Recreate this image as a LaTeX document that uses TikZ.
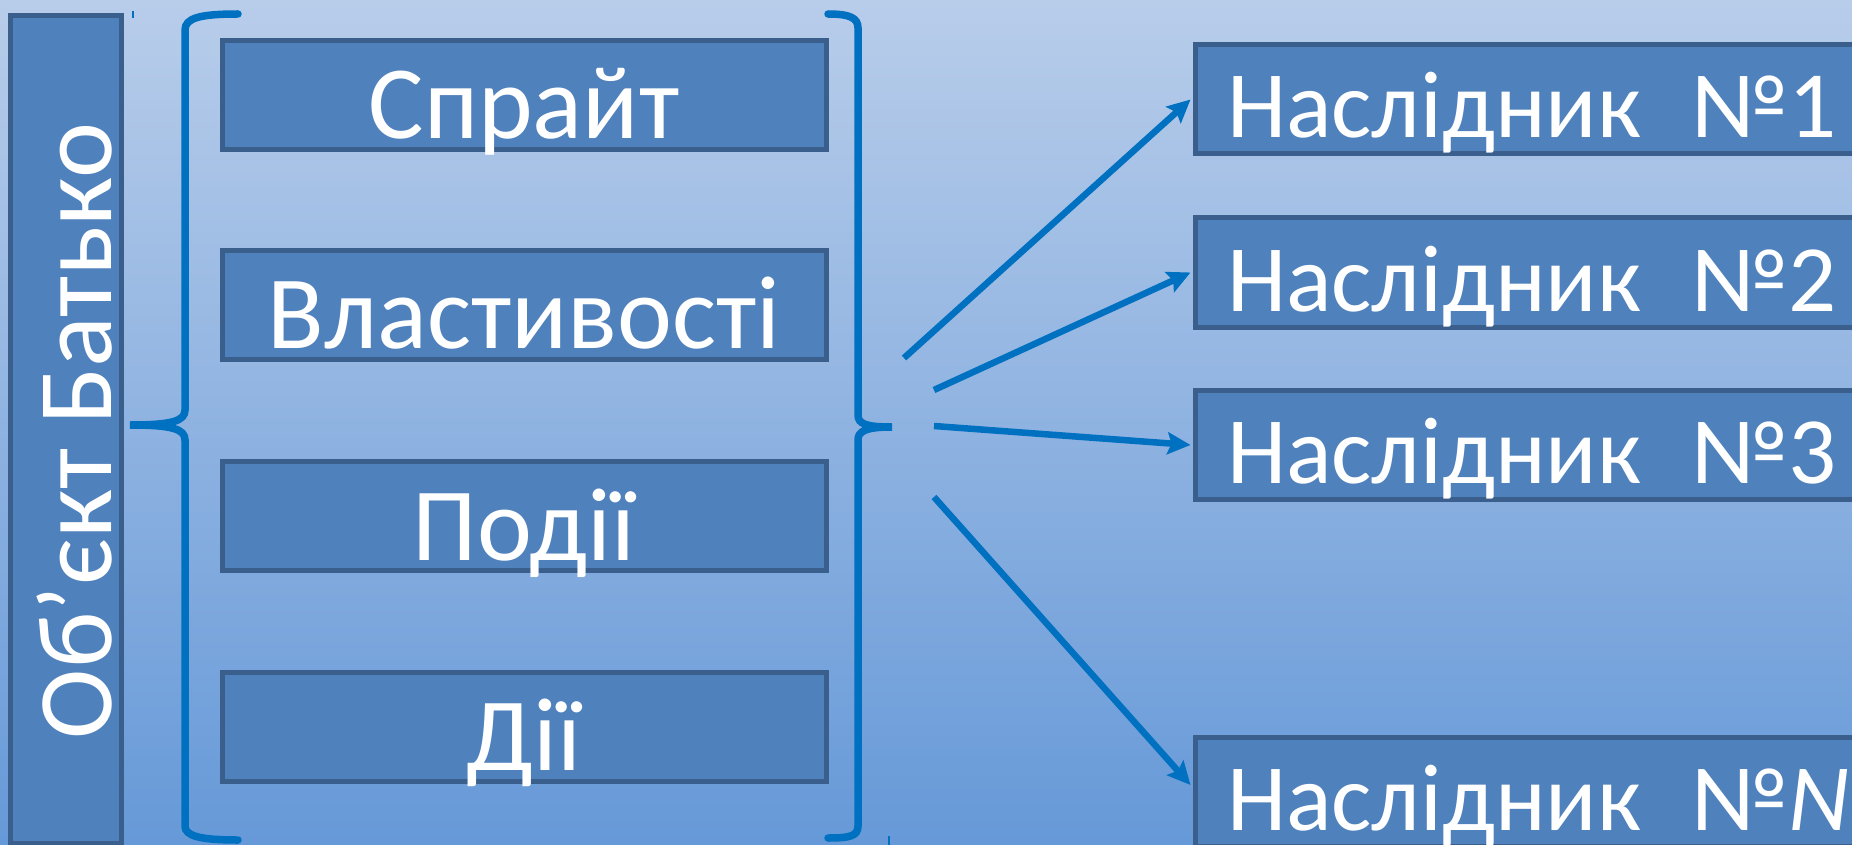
\documentclass[tikz,border=0pt]{standalone}
\usepackage{fontspec}
\setmainfont{Carlito}
\usetikzlibrary{arrows.meta}
\definecolor{bgtop}{HTML}{B8CDEA}
\definecolor{bgbot}{HTML}{6699D8}
\definecolor{boxfill}{HTML}{4F81BD}
\definecolor{boxline}{HTML}{3B5F8C}
\definecolor{linkblue}{HTML}{0070C0}
\begin{document}
\begin{tikzpicture}[x=1pt,y=-1pt,
  mbox/.style={draw=boxline, fill=boxfill, line width=5pt, minimum width=604pt, minimum height=109pt, inner sep=0pt, text=white, font=\fontsize{104}{110}\selectfont, text height=98pt, text depth=10pt},
  rbox/.style={draw=boxline, fill=boxfill, line width=5pt, minimum width=714pt, minimum height=109pt, inner xsep=28.5pt, inner ysep=0pt, text=white, font=\fontsize{95}{100}\selectfont, text height=92pt, text depth=15pt, text width=650pt, align=left, anchor=west},
  pbox/.style={draw=boxline, fill=boxfill, line width=5pt, minimum width=111pt, minimum height=827pt, inner sep=0pt},
  ptext/.style={rotate=90, anchor=base, text=white, font=\fontsize{106}{110}\selectfont, inner sep=0pt},
  brace/.style={draw=linkblue, line width=7.5pt, line cap=round},
  conn/.style={draw=linkblue, line width=6.5pt, -{Stealth[length=23pt,width=22pt,inset=4pt]}}]
\useasboundingbox (0,0) rectangle (1852,845);
\clip (0,0) rectangle (1852,845);
\shade[top color=bgtop, bottom color=bgbot] (0,0) rectangle (1852,845);

% parent object
\node[pbox] (parent) at (65.5,429.5) {};
\node[ptext] (parenttext) at (111,431) {Об’єкт Батько};

% braces
\draw[brace] (238,14) .. controls (200,14) and (185,18) .. (185,30) -- (185,410) .. controls (185,421) and (172,425) .. (130,425) .. controls (172,425) and (185,429) .. (185,440) -- (185,826) .. controls (185,836) and (200,840) .. (238,840);
\draw[brace] (828,14) .. controls (850,14) and (858,18) .. (858,28) -- (858,415) .. controls (858,424) and (866,427) .. (892,427) .. controls (866,427) and (858,431) .. (858,440) -- (858,826) .. controls (858,836) and (850,838) .. (828,838);
\draw[linkblue, line width=2pt] (133,11) -- (133,18);
\draw[linkblue, line width=2pt] (889,836) -- (889,845);

% components
\node[mbox] (sprite) at (524,95) {Спрайт};
\node[mbox] (props) at (524,304.5) {Властивості};
\node[mbox] (events) at (524,516) {Події};
\node[mbox] (actions) at (524,726.5) {Дії};

% children
\node[rbox] (c1) at (1192.5,99.5) {Наслідник\hspace{50pt}№1};
\node[rbox] (c2) at (1192.5,272.5) {Наслідник\hspace{50pt}№2};
\node[rbox] (c3) at (1192.5,445) {Наслідник\hspace{50pt}№3};
\node[rbox] (cn) at (1192.5,791.5) {Наслідник\hspace{50pt}№\textit{N}};

% connectors
\coordinate (s1) at (904,358);
\coordinate (s2) at (934,390);
\coordinate (s3) at (934,426);
\coordinate (s4) at (934,497);
\draw[conn] (s1) -- ([xshift=-2pt]c1.west);
\draw[conn] (s2) -- ([xshift=-2pt]c2.west);
\draw[conn] (s3) -- ([xshift=-2pt]c3.west);
\draw[conn] (s4) -- ([xshift=-2pt,yshift=6.5pt]cn.west);
\end{tikzpicture}
\end{document}
